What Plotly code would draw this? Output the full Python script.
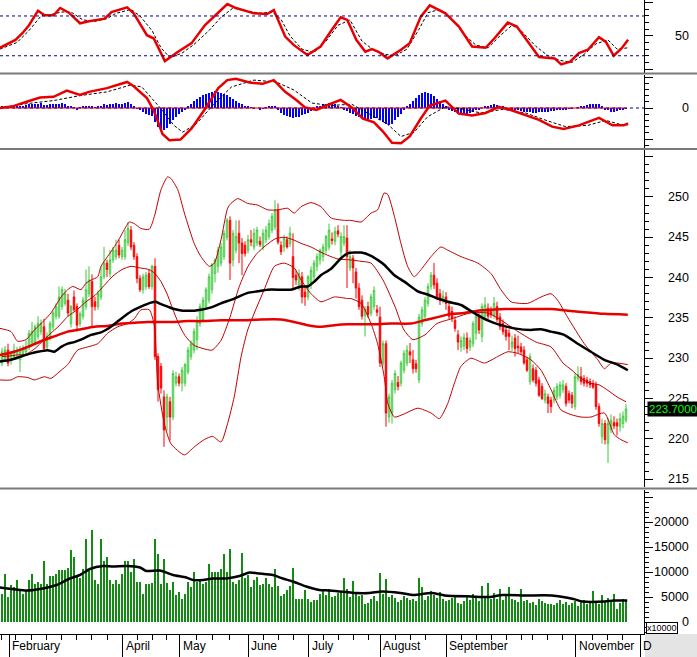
import plotly.graph_objects as go

W, H = 697, 657

# ---------------- data ----------------
open_ = [229.4,230.0,231.0,229.8,230.2,230.6,229.8,230.6,230.8,231.4,231.9,231.9,232.7,233.3,233.9,231.4,232.6,233.9,235.2,235.2,
 236.4,236.8,237.2,234.3,237.6,236.4,234.3,235.2,236.4,238.0,239.5,237.0,236.4,237.6,240.1,241.8,240.5,242.2,242.6,244.0,
 242.6,242.6,244.3,245.9,244.0,242.6,239.9,238.5,238.9,240.5,238.9,241.4,230.2,229.0,225.2,222.7,224.6,222.7,226.9,227.7,
 226.9,226.9,228.3,230.2,231.0,232.3,234.3,234.8,236.4,237.2,238.5,240.5,241.4,241.8,242.6,245.0,247.1,242.2,243.4,245.5,
 244.3,244.0,243.4,244.7,243.8,244.3,244.5,243.8,244.7,245.1,245.9,246.3,248.4,244.0,243.8,244.7,244.2,242.6,240.3,238.9,
 240.1,238.2,237.6,239.3,240.1,241.4,242.2,242.6,243.4,243.8,244.8,244.5,245.8,243.2,244.3,244.9,241.2,242.4,240.7,238.7,
 237.2,235.3,236.4,235.6,236.4,236.0,235.1,229.4,231.8,222.7,223.2,226.1,227.0,226.9,228.5,229.4,230.8,229.8,229.3,227.3,
 234.3,235.2,236.8,238.9,240.3,239.3,238.0,237.2,237.6,236.4,235.8,234.7,232.9,231.4,231.5,232.5,231.4,231.8,233.1,235.2,
 232.7,235.2,236.2,236.0,235.3,236.4,235.1,234.3,233.5,233.1,231.4,232.5,231.5,231.4,231.0,229.8,227.1,228.7,228.5,227.3,
 226.5,224.8,225.2,224.8,224.8,225.2,225.4,226.1,226.5,225.6,225.4,224.0,227.5,227.7,227.5,227.3,227.1,226.9,226.7,224.0,
 220.3,221.9,219.4,221.1,222.0,222.0,221.5,221.9,222.3]
high = [231.3,231.5,231.8,230.9,231.8,231.4,231.5,231.6,232.2,233.5,234.5,234.2,235.2,234.8,234.9,233.2,234.6,235.9,236.8,238.9,
 238.9,238.6,238.0,236.6,238.4,236.8,235.8,237.6,241.0,241.4,240.4,237.6,238.4,241.4,243.8,242.2,243.4,243.8,244.7,244.7,
 243.8,245.9,246.9,246.4,244.4,243.0,240.3,240.5,240.7,241.0,241.6,242.4,230.6,229.4,226.0,225.6,225.2,228.5,228.3,228.1,
 228.9,229.4,231.4,232.2,233.7,235.2,236.8,237.6,238.8,240.5,241.8,242.4,243.8,244.3,245.9,247.4,247.6,245.9,247.1,247.1,
 244.9,244.5,245.3,245.9,246.1,246.3,245.1,246.0,246.4,247.2,248.0,249.6,249.2,244.5,245.3,245.1,246.3,245.5,240.9,241.0,
 240.7,238.9,240.3,241.4,242.2,243.0,243.6,244.2,245.3,246.7,245.6,246.3,246.5,245.6,246.5,246.5,243.4,242.8,241.2,239.3,
 237.8,236.5,237.0,238.0,238.9,236.6,236.4,232.2,232.2,225.6,227.3,228.5,227.8,229.7,231.0,231.6,231.9,231.0,229.8,235.5,
 236.4,237.6,239.3,240.7,241.8,239.9,238.6,238.4,238.2,237.0,236.4,235.2,233.5,232.7,233.1,233.2,232.6,234.6,236.0,235.6,
 236.8,237.6,236.8,236.4,237.6,237.0,235.6,234.8,234.0,233.6,232.8,233.0,232.8,231.9,231.5,230.2,230.6,229.2,228.9,227.7,
 226.9,226.1,225.6,225.2,226.4,226.9,227.1,227.3,226.9,226.0,225.8,228.1,229.0,228.9,227.9,227.7,227.5,227.3,227.1,224.4,
 222.5,222.3,222.6,223.0,222.8,222.5,223.2,223.4,224.3]
low = [229.0,229.6,229.0,229.2,229.8,229.9,228.3,230.2,230.5,231.0,231.5,231.6,232.3,232.9,231.0,231.0,232.2,233.5,234.8,234.9,
 236.0,236.5,235.2,233.8,235.8,233.3,233.9,234.8,236.0,237.6,233.9,235.9,236.0,237.2,239.8,240.1,240.0,241.8,242.2,242.4,
 242.2,242.2,243.9,243.4,242.2,239.3,238.2,238.0,238.5,238.6,238.5,229.8,224.6,225.6,219.0,221.0,219.8,222.3,226.5,226.5,
 225.9,226.5,228.0,229.8,230.6,231.0,233.9,234.4,236.0,236.8,238.0,239.4,240.6,241.4,242.2,244.6,239.7,241.4,243.0,241.8,
 240.3,242.6,243.0,243.9,243.4,243.9,243.8,243.4,244.3,244.7,245.5,245.9,244.1,242.8,243.2,243.6,243.8,238.5,239.1,238.4,
 236.8,236.5,237.2,238.6,239.6,240.8,241.6,242.0,243.0,243.4,244.1,244.0,245.0,242.6,243.9,238.7,240.8,239.3,237.4,236.0,
 234.8,232.7,235.0,235.2,236.0,235.2,228.9,229.0,221.5,222.0,221.9,225.6,226.0,226.5,228.1,229.0,229.4,228.1,228.2,226.9,
 233.9,234.8,236.4,238.5,238.6,237.2,236.6,236.8,236.0,234.8,234.5,233.3,231.0,230.8,231.0,230.6,230.9,231.4,232.3,233.0,
 232.0,234.8,234.8,235.0,234.9,234.5,233.5,232.9,232.2,231.0,230.9,230.2,230.6,230.4,229.2,228.3,226.7,227.0,226.5,225.2,
 224.8,224.4,223.2,223.2,224.4,224.8,225.0,225.7,224.0,224.4,223.8,223.6,227.1,226.7,226.5,226.4,226.3,226.2,223.6,221.5,
 219.4,219.3,217.0,220.7,221.2,220.4,220.9,221.3,222.0]
close = [230.8,231.0,229.4,230.6,231.0,231.0,231.1,231.2,231.4,233.1,233.3,233.9,234.3,234.3,231.2,232.7,234.3,235.6,236.4,237.6,
 238.5,238.0,235.6,236.4,236.0,234.1,235.5,237.2,238.5,239.7,236.4,236.4,238.0,240.1,241.8,241.0,242.2,243.4,243.4,242.8,
 243.4,244.7,246.1,243.8,242.6,239.9,238.5,240.1,240.3,238.9,241.4,230.2,226.1,226.3,221.1,225.2,222.7,228.1,227.7,226.9,
 228.5,229.2,231.0,231.8,233.3,234.7,236.4,237.2,238.5,240.1,241.6,242.2,243.4,243.8,245.5,247.1,241.8,245.5,245.1,244.3,
 243.0,243.0,244.7,244.4,245.5,245.9,244.1,245.5,245.9,246.7,247.6,248.4,244.4,243.2,244.9,243.8,245.5,240.0,239.7,240.5,
 237.6,237.6,240.1,240.9,241.8,242.6,243.4,243.8,245.1,245.9,244.6,245.7,245.4,245.1,245.1,242.6,242.6,241.2,238.7,236.4,
 235.2,236.1,235.4,237.6,238.4,235.7,229.4,231.8,223.2,225.2,226.9,228.1,226.5,229.4,230.6,231.0,230.4,228.7,228.7,235.1,
 236.0,237.2,238.9,240.3,239.1,237.6,237.2,237.7,236.8,235.2,234.9,233.7,232.0,232.2,232.6,231.2,232.2,234.3,235.2,233.5,
 236.4,236.6,235.2,235.4,236.8,234.8,233.9,233.3,232.7,232.7,232.0,231.2,231.3,230.8,229.4,228.5,230.2,227.3,226.9,225.4,
 225.0,225.6,224.4,224.0,226.0,226.5,226.7,226.7,224.4,224.8,224.4,227.7,228.0,227.1,226.9,226.9,226.7,226.4,224.0,221.9,
 221.9,219.9,221.9,222.3,221.6,221.6,222.5,222.8,223.7]

volume = [5700,9700,5100,7400,7100,8400,6400,5700,6200,8400,9700,7600,8000,7600,12200,7700,9200,9200,9700,10500,
 10500,10400,10800,14500,13100,9400,8900,10700,16600,10500,18500,8500,7600,16600,12300,13100,8400,7700,8500,7700,
 9700,12200,12200,10100,12700,8100,8100,5600,7600,7600,7800,16600,13700,7700,12700,7900,6500,8000,5400,6100,
 4700,5600,8000,7100,10000,8000,8400,7700,8000,11600,10000,10000,10000,10700,13700,10000,14700,8000,7600,8500,
 13900,8900,9400,7100,8400,9100,7400,7700,8800,7700,7100,10600,7200,5200,5700,6400,7200,10900,4700,4700,
 4700,6500,4700,4100,4400,4400,5700,6200,5400,6600,5000,5300,5900,6300,8900,6700,5100,8300,5600,5200,
 5400,3600,3900,4600,5200,4300,9800,5600,8700,5000,5400,4800,4100,4400,5200,4900,4400,4700,4300,8900,
 7000,4500,5200,6300,5500,4800,6000,4600,4300,4500,4900,5000,3900,3600,4300,5100,4500,5600,4800,4200,
 7300,5100,7900,4700,5800,4700,6600,4500,5300,7100,4600,4400,4100,6700,4200,4400,3900,4100,3500,4600,
 4300,3900,3600,3700,3400,3800,4400,3700,4100,3500,3900,4200,3300,4000,4500,3700,4300,6200,4100,3700,
 5400,4000,4800,4300,5600,2600,3800,4600,4300]

macd_hist = [0.2,0.3,0.3,0.2,0.3,0.4,0.3,0.4,0.5,
 0.6,0.7,0.6,0.7,0.8,0.5,0.5,0.6,0.7,0.6,0.7,0.8,
 0.6,0.3,0.2,0.1,-0.2,0.1,0.3,0.4,
 0.4,0.2,0.1,0.2,0.4,
 0.6,0.5,0.6,0.7,0.8,0.7,0.7,0.8,0.9,0.6,
 0.3,-0.1,-0.4,-0.6,
 -0.9,-1.2,-1.3,
 -2.2,-3.0,-3.4,-3.5,
 -3.2,-2.6,-2.0,-1.5,
 -1.0,-0.6,-0.2,0.2,
 0.7,1.1,1.5,1.8,
 2.1,2.3,2.5,2.6,2.7,2.6,
 2.5,2.3,2.1,1.8,
 1.4,1.1,0.8,0.6,0.4,0.3,
 0.1,-0.1,0.0,-0.2,-0.1,0.1,
 0.2,0.3,0.2,-0.2,
 -0.8,-1.1,-1.3,-1.5,-1.6,-1.5,-1.4,-1.2,
 -1.0,-0.8,-0.5,-0.3,
 0.2,0.4,0.6,0.7,0.8,0.7,0.6,0.4,
 0.1,-0.2,-0.5,-0.8,-1.0,
 -1.3,-1.5,-1.6,-1.7,-1.8,-1.7,-1.6,
 -1.6,-2.0,-2.2,-2.6,-2.7,-2.5,
 -2.0,-1.4,-0.9,-0.4,
 0.2,0.7,1.2,1.6,
 2.1,2.4,2.6,2.5,2.3,2.0,
 1.5,1.1,0.7,0.3,
 -0.2,-0.5,-0.7,-0.9,-1.0,-1.0,-0.9,-0.8,
 -0.6,-0.4,-0.2,0.0,
 0.2,0.4,0.5,0.6,0.5,0.4,
 0.2,0.0,-0.1,-0.2,
 -0.3,-0.4,-0.5,-0.6,-0.7,-0.7,-0.8,-0.8,-0.7,-0.7,-0.6,-0.6,
 -0.5,-0.5,-0.4,-0.3,-0.3,-0.2,-0.1,-0.1,
 0.0,0.1,0.2,0.3,
 0.5,0.6,0.7,0.7,0.6,0.3,
 -0.2,-0.4,-0.6,-0.6,-0.5,
 -0.3,-0.2,-0.1]

bb_up_x = [-0.7,3,5.2,8,10.8,14.1,16.3,19.7,21.9,23.6,26.3,28,29.7,31.9,33,36.3,38.6,41.3,42.4,44.1,46.3,49.1,50.8,53,55.2,56.3,58.6,
 60.8,64.1,66.3,69.1,70.8,73,75.2,76.3,78.6,81.9,85.2,88.6,91.9,95.2,97.4,99.7,103,106.3,109.7,114.1,116.3,119.7,123,125.2,
 127.4,128.6,130.8,133,135.2,137.4,139.7,143,146.3,148.6,153,158.6,163,166.3,169.7,175.2,179.7,183,185.2,188.5,194.1,198.6,
 200.8,203,205.2,208.6]
bb_up = [233.7,233.3,232.1,232.3,233.5,234.7,235.6,237.6,238.5,238.9,238.5,239.3,239.7,240.1,241.4,243.2,244.5,246.3,246.9,246.7,246.1,
 246.0,247.6,250.9,252.5,252.3,250.9,248.0,244.2,242.6,241.4,241.8,244.7,248.6,249.2,249.8,249.2,249.0,248.4,248.4,248.6,248.0,
 248.8,249.3,248.8,247.4,247.1,247.1,246.9,248.0,248.4,250.5,250.3,247.6,244.2,241.4,240.1,241.0,242.6,243.8,243.4,242.6,241.8,
 240.5,238.5,237.0,236.8,237.6,238.0,237.2,235.1,231.8,229.8,228.7,229.4,229.4,229.2]

bb_lo_x = [-0.7,3,5.2,8.6,10.8,14.1,16.3,19.7,21.9,25.2,28.6,31.9,35.2,38.6,41.9,44.1,46.3,49.1,50.8,51.9,54.1,56.3,60.8,64.1,67.4,
 70.2,73,75.2,77.4,79.7,81.9,84.1,87.4,90.8,94.1,97.4,99.7,103,106.3,110.8,115.2,116.3,119.7,123,125.2,127.4,128.6,130.8,134.1,
 138.6,143,145.8,148.6,150.8,153,156.3,160.8,165.2,168.6,171.9,176.3,179.7,183,186.3,189.7,193,196.3,200.8,204.1,206.3,208.6]
bb_lo = [227.3,227.3,227.7,227.6,227.3,227.7,227.5,228.5,229.2,231.0,231.4,231.8,233.1,233.9,234.3,234.9,236.0,236.0,234.0,226.9,
 221.9,219.4,218.0,219.0,219.9,220.3,219.6,221.9,225.2,230.2,233.5,235.6,238.5,241.4,241.8,241.2,239.7,238.0,237.0,237.6,237.4,
 237.4,236.8,234.3,231.8,227.7,224.4,222.7,223.1,223.8,223.2,222.5,224.4,226.9,229.0,230.0,229.4,230.2,230.8,230.6,229.8,228.5,
 226.1,223.6,223.0,222.7,222.7,223.2,220.5,219.9,219.5]

bb_mid_x = [0,3,5,8,11,14,16,19,22,25,28,31,34,37,40,43,46,49,51,53,55,57,59,61,64,67,70,73,76,79,82,85,88,91,94,97,100,103,106,
 109,112,116,120,123,127,131,134,137,141,145,150,156,162,166,172,178,183,187,190,193,196,199,202,205,208]
bb_mid = [230.2,230.3,230.4,230.5,231.2,232.3,233.0,234.0,235.2,236.0,237.0,237.8,239.0,240.2,241.0,241.4,241.2,241.0,240.5,239.5,
 238.0,236.0,234.2,232.8,231.6,231.2,231.0,232.2,235.1,238.8,241.4,243.0,244.0,244.8,245.0,244.7,244.2,243.8,243.2,242.7,242.3,
 242.2,242.0,241.8,239.7,236.4,233.5,232.3,232.9,234.3,234.9,235.6,235.6,234.8,233.3,232.0,231.4,229.4,228.5,227.5,226.9,226.7,
 226.0,225.2,224.6]

ma_black_x = [-0.7,3,6.3,9.7,11.9,15.2,17.4,19.7,21.9,24.1,26.3,29.7,33,36.3,39.7,43,46.3,49.7,51.3,53,55.2,57.4,60.2,64.1,66.3,
 69.7,73,77.4,81.9,85.2,88.6,93,96.3,99.7,101.9,104.1,106.3,109.7,113,115.2,119.7,123,125.2,127.4,130.8,134.1,138.6,141.9,145.2,
 148.6,153,157.4,161.9,166.3,170.8,176.3,179.7,183,187.4,191.9,196.3,200.8,205.2,208.6]
ma_black = [229.6,229.8,230.2,230.6,230.8,231.0,230.8,231.4,231.8,232.0,232.3,232.9,233.2,233.9,234.9,235.8,236.4,236.9,237.0,236.7,
 236.4,236.1,235.9,235.9,236.0,236.3,236.8,237.4,238.1,238.3,238.5,238.5,238.5,238.9,238.9,239.5,240.3,241.1,242.4,243.0,243.1,
 242.7,242.2,241.6,240.3,239.5,238.3,237.9,237.4,237.0,236.6,235.6,234.7,234.1,233.7,233.5,233.6,233.3,232.9,231.8,230.8,229.8,
 229.2,228.5]

ma_red_x = [-0.7,4.1,8.6,13,17.4,21.9,26.3,30.8,35.2,39.7,44.1,48.6,53,57.4,61.9,66.3,73,79.7,86.3,93,97.4,101.9,106.3,110.8,115.2,
 123,129.7,136.3,140.8,145.2,149.7,154.1,158.6,163,167.4,171.9,177.4,183,188.6,194.1,200.8,208.6]
ma_red = [230.4,230.8,231.4,232.1,232.7,233.3,233.6,233.9,234.0,234.3,234.4,234.5,234.5,234.5,234.6,234.6,234.7,234.7,234.8,234.8,
 234.5,234.1,233.9,234.1,234.2,234.2,234.3,234.3,234.7,235.1,235.5,235.6,235.9,236.0,236.1,236.1,236.1,236.1,235.9,235.7,235.5,
 235.4]

vol_ma_x = [-0.7,8.2,13.7,18.2,22.6,26,29.3,33.7,37,41.5,46,48.1,52.6,57,61.4,63.7,67,70.3,74.8,79.2,82.5,85.8,90.3,93.6,96.9,
 101.4,105.8,109,118,122.4,126.8,132.8,137.2,143.2,147.6,156.5,162.4,166.9,174.3,183.2,190.5,193.5,200.9,203.9,208.4]
vol_ma = [6900,6300,6700,7400,8700,9400,10600,11200,11100,11200,10900,10200,10300,9400,8900,8400,8400,8700,8700,9200,9900,9700,
 9400,8700,8100,7100,6400,6300,5800,5800,6100,5800,5400,5800,5300,5100,5000,5400,5300,5300,4600,4100,4100,4300,4300]

stoch_k_x = [-0.7,4.5,6.8,9,12,14.2,17.2,19.4,22.3,26,29,34.2,36.5,41.7,43.9,48.3,50.6,54.3,58.7,63.2,67.6,70.6,75.1,78,84,88.4,
 90.6,94.4,97.3,101.8,106.2,109.9,112.9,115.1,118.1,121.1,123.3,125.5,128.5,133,135.9,139.6,142.6,147.8,152.3,156.7,161.2,164.1,
 168.6,171.6,176,179,184.2,186.4,189.4,192.3,195.3,199,201.3,203.9,206.5,208.7]
stoch_k = [32,44,54,66,88,81,81,92,85,69,72,76,86,93,84,51,46,12,26,39,66,79,98,92,84,83,89,49,36,21,34,59,78,74,44,26,30,26,16,29,
 39,79,96,84,64,34,32,46,70,64,36,18,16,7,11,24,29,48,41,20,31,44]

stoch_d_x = [-0.7,5,9,13,16,20,23,27,31,35,38,43,46,50,53,56,60,64,69,73,77,81,86,90,93,96,100,104,108,112,116,120,124,128,131,
 135,139,142,146,150,154,158,162,166,170,173,178,182,186,190,194,198,202,205,208.7]
stoch_d = [30,40,58,80,82,86,86,74,72,76,84,90,80,58,32,17,24,37,58,78,92,88,84,86,75,50,30,25,42,66,74,42,28,22,20,30,60,85,90,
 76,52,36,32,50,66,58,34,20,13,10,22,38,44,30,32]

macd_x = [-0.7,3.8,8.2,12.7,17.2,21.6,26,29,35,41.7,43.9,48.3,50.6,53.5,55.8,59.5,63.2,67.6,72.1,75.1,78,82.5,86.9,90.6,94.4,98.1,
 101,104.8,109.2,112.9,116.6,120.3,124,127,130,133,135.9,139.6,142.6,147.8,152.3,156.7,161.2,165.6,170.1,174.5,179,183.4,187.2,
 192.3,199,203.5,207.2,208.7]
macd = [0,0.3,1.0,1.7,1.8,2.8,2.1,2.6,3.2,4.2,3.5,1.6,-0.4,-4.2,-5.2,-5.1,-3.3,-0.2,3.2,4.5,4.7,4.1,3.9,4.5,2.6,1.3,0.1,-0.3,0.6,
 1.3,0.1,-1.7,-2.3,-3.8,-5.6,-5.7,-4.6,-1.7,0.4,1.2,-0.9,-1.2,-0.8,0.2,-0.4,-1.2,-1.9,-3.0,-3.4,-2.8,-1.6,-2.8,-2.8,-2.5]

sig_x = [-0.7,8.2,17.2,26,35,42.8,46.6,53.5,57.3,60.2,64.7,70.6,76.5,84,91.4,97.3,103.3,109.2,116.6,122.5,128.5,133,137.4,141.9,
 147.8,153.8,159.7,167.1,174.5,182,187.9,195.3,201.3,207.2,208.7]
sig = [0,0.7,1.2,2.0,2.6,3.7,3.4,-0.4,-2.8,-3.9,-2.6,0.6,3.4,4.5,4.2,2.9,0.8,0.4,0.6,-1.0,-2.6,-4.6,-3.9,-1.4,0.2,-0.2,-0.8,-0.2,
 -0.8,-2.1,-3.0,-2.8,-2.0,-2.8,-2.7]

month_names = ["February", "April", "May", "June", "July", "August", "September", "November", "D"]
month_pos = [2.43, 40.2, 59.3, 82.0, 102.3, 126.1, 148.0, 191.3, 212.8]
week_pos = [-0.1, 4.6, 9.9, 14.9, 19.9, 24.9, 29.9, 35.0, 45.2, 50.1, 54.8, 64.8, 70.3, 75.9, 87.0, 92.0, 97.0,
            107.3, 112.3, 117.3, 122.3, 131.1, 136.1, 141.1, 153.0, 158.0, 163.0, 168.0, 173.0, 176.8, 181.8,
            186.8, 196.8, 201.8, 206.8]

price_labels = [215, 220, 225, 230, 235, 240, 245, 250]
vol_labels = [0, 5000, 10000, 15000, 20000]
last_price = 223.7

# ---------------- figure ----------------
n = min(len(open_), len(high), len(low), len(close))
idx = list(range(n))

def py(p):  # pixel row -> paper y
    return 1 - p / H

XR = [-2 / 3.0, 642 / 3.0]   # exactly 3 px per bar
XD = [0, 644 / W]
FONT = "Liberation Sans, Arial, sans-serif"
RED = "#e80000"

fig = go.Figure()

# stochastic
fig.add_trace(go.Scatter(x=stoch_d_x, y=stoch_d, mode="lines",
                         line=dict(color="black", width=1, dash="3px,2px"), xaxis="x", yaxis="y"))
fig.add_trace(go.Scatter(x=stoch_k_x, y=stoch_k, mode="lines",
                         line=dict(color=RED, width=2.5), xaxis="x", yaxis="y"))

# MACD
hx = list(range(len(macd_hist)))
fig.add_trace(go.Bar(x=hx, y=macd_hist, width=0.5, marker=dict(color="#0000ff", line=dict(width=0)),
                     xaxis="x2", yaxis="y2"))
fig.add_trace(go.Scatter(x=hx, y=[0] * len(hx), mode="lines", line=dict(color=RED, width=1),
                         xaxis="x2", yaxis="y2"))
fig.add_trace(go.Scatter(x=sig_x, y=sig, mode="lines",
                         line=dict(color="black", width=1, dash="3px,2px"), xaxis="x2", yaxis="y2"))
fig.add_trace(go.Scatter(x=macd_x, y=macd, mode="lines", line=dict(color=RED, width=2.5),
                         xaxis="x2", yaxis="y2"))

# price
fig.add_trace(go.Candlestick(x=idx, open=open_[:n], high=high[:n], low=low[:n], close=close[:n],
                             increasing=dict(line=dict(color="#3cc83c", width=1), fillcolor="white"),
                             decreasing=dict(line=dict(color="#ff0000", width=1), fillcolor="#ff0000"),
                             whiskerwidth=0, xaxis="x3", yaxis="y3"))
for xs, ys in ((bb_up_x, bb_up), (bb_lo_x, bb_lo), (bb_mid_x, bb_mid)):
    fig.add_trace(go.Scatter(x=xs, y=ys, mode="lines", line=dict(color="#c00000", width=1, shape="spline", smoothing=0.6),
                             xaxis="x3", yaxis="y3"))
fig.add_trace(go.Scatter(x=ma_red_x, y=ma_red, mode="lines", line=dict(color=RED, width=2.5, shape="spline", smoothing=0.6),
                         xaxis="x3", yaxis="y3"))
fig.add_trace(go.Scatter(x=ma_black_x, y=ma_black, mode="lines", line=dict(color="black", width=2.5, shape="spline", smoothing=0.6),
                         xaxis="x3", yaxis="y3"))

# volume
vx = list(range(len(volume)))
fig.add_trace(go.Bar(x=vx, y=volume, width=0.62, marker=dict(color="#138a13", line=dict(width=0)),
                     xaxis="x4", yaxis="y4"))
fig.add_trace(go.Scatter(x=vol_ma_x, y=vol_ma, mode="lines", line=dict(color="black", width=2.5, shape="spline", smoothing=0.6),
                         xaxis="x4", yaxis="y4"))

xbase = dict(domain=XD, range=XR, showgrid=False, zeroline=False, showticklabels=False,
             ticks="", showline=False, fixedrange=True)

def yax(dom, rng, dtick, mdtick, anchor):
    return dict(domain=dom, range=rng, side="right", anchor=anchor, showline=True, linecolor="black",
                linewidth=1, ticks="outside", tickmode="linear", tick0=0, dtick=dtick, ticklen=8,
                tickcolor="black", tickwidth=1, showticklabels=False, showgrid=False, zeroline=False,
                minor=dict(tickmode="linear", tick0=0, dtick=mdtick, ticks="outside", ticklen=4,
                           tickcolor="black", tickwidth=1, showgrid=False),
                fixedrange=True)

fig.update_layout(
    width=W, height=H, margin=dict(l=0, r=0, t=0, b=0),
    paper_bgcolor="white", plot_bgcolor="white", showlegend=False, bargap=0,
    xaxis=dict(xbase, anchor="y"),
    xaxis2=dict(xbase, anchor="y2"),
    xaxis3=dict(xbase, anchor="y3", rangeslider=dict(visible=False)),
    xaxis4=dict(xbase, anchor="y4", showline=True, linecolor="black", linewidth=1,
                ticks="outside", tickmode="array", tickvals=month_pos, ticklen=23, tickcolor="black",
                tickwidth=1,
                minor=dict(tickmode="array", tickvals=week_pos, ticks="outside", ticklen=5,
                           tickcolor="black", tickwidth=1)),
    yaxis=yax([py(73), py(0)], [-6.0, 104.1], 50, 10, "x"),
    yaxis2=yax([py(149), py(75)], [-6.613, 5.323], 5, 1, "x2"),
    yaxis3=yax([py(487), py(150)], [214.02, 255.83], 5, 1, "x3"),
    yaxis4=yax([py(634), py(490)], [-2400, 26400], 5000, 1000, "x4"),
)

shapes = []
for lev in (20, 80):
    shapes.append(dict(type="line", xref="paper", x0=0, x1=644 / W, yref="y", y0=lev, y1=lev,
                       line=dict(color="#000080", width=1, dash="3px,3px")))
shapes.append(dict(type="line", xref="paper", x0=0, x1=644 / W, yref="y2", y0=0, y1=0,
                   line=dict(color="#000080", width=1, dash="3px,3px"), layer="below"))
for p in (73.5, 149, 488.5):
    shapes.append(dict(type="line", xref="paper", x0=0, x1=1, yref="paper", y0=py(p), y1=py(p),
                       line=dict(color="#7a7a7a", width=2)))
shapes.append(dict(type="rect", xref="paper", x0=645 / W, x1=1, yref="paper", y0=0, y1=py(634),
                   line=dict(width=0), fillcolor="#e4e4e4"))
fig.update_layout(shapes=shapes)

ann = []
LX = 691 / W
ann.append(dict(x=LX, xref="paper", y=50, yref="y", text="50", showarrow=False, xanchor="right",
                yanchor="middle", font=dict(family=FONT, size=12.5, color="black")))
ann.append(dict(x=LX, xref="paper", y=0, yref="y2", text="0", showarrow=False, xanchor="right",
                yanchor="middle", font=dict(family=FONT, size=12.5, color="black")))
for v in price_labels:
    ann.append(dict(x=LX, xref="paper", y=v, yref="y3", text=str(v), showarrow=False, xanchor="right",
                    yanchor="middle", font=dict(family=FONT, size=12.5, color="black")))
for v in vol_labels:
    ann.append(dict(x=LX, xref="paper", y=v, yref="y4", text=str(v), showarrow=False, xanchor="right",
                    yanchor="middle", font=dict(family=FONT, size=12.5, color="black")))
for name, pos in zip(month_names, month_pos):
    ann.append(dict(x=pos, xref="x4", y=py(646), yref="paper", text=name, showarrow=False,
                    xanchor="left", yanchor="middle", xshift=1,
                    font=dict(family=FONT, size=12, color="black")))
ann.append(dict(x=647 / W, xref="paper", y=last_price, yref="y3", text=f"{last_price:.4f}", showarrow=False,
                xanchor="left", yanchor="middle", bgcolor="black", borderpad=1,
                font=dict(family=FONT, size=11.5, color="#00ff00")))
ann.append(dict(x=646 / W, xref="paper", y=py(628), yref="paper", text="x10000", showarrow=False,
                xanchor="left", yanchor="middle", bgcolor="white", bordercolor="black", borderwidth=1,
                borderpad=0, font=dict(family=FONT, size=9, color="black")))
fig.update_layout(annotations=ann)

fig.write_html("out.html", config={"displayModeBar": False})
